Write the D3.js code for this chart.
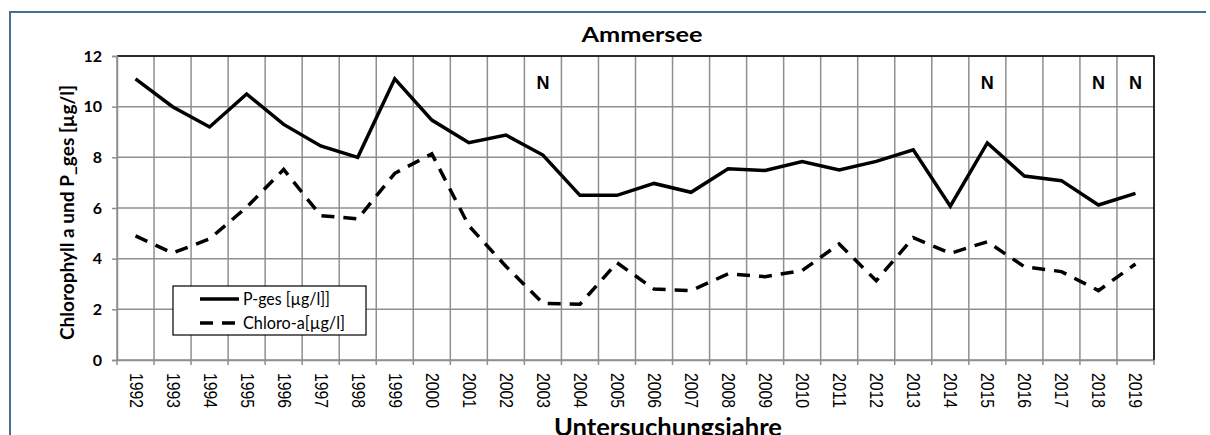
<!DOCTYPE html>
<html>
<head>
<meta charset="utf-8">
<script src="https://cdn.jsdelivr.net/npm/d3@7"></script>
<style>
  html, body { margin: 0; padding: 0; background: #fff; }
  svg { display: block; }
</style>
</head>
<body>
<svg id="chart" width="1210" height="435"></svg>
<script>
// Ammersee: total phosphorus and chlorophyll a, annual means
const years = [1992, 1993, 1994, 1995, 1996, 1997, 1998, 1999, 2000, 2001,
               2002, 2003, 2004, 2005, 2006, 2007, 2008, 2009, 2010, 2011,
               2012, 2013, 2014, 2015, 2016, 2017, 2018, 2019];
const pGes = [11.1, 10.0, 9.2, 10.5, 9.3, 8.45, 8.0, 11.1, 9.47, 8.58,
              8.88, 8.09, 6.5, 6.5, 6.97, 6.62, 7.55, 7.48, 7.83, 7.5,
              7.84, 8.3, 6.07, 8.57, 7.26, 7.08, 6.12, 6.58];
const chloroA = [4.9, 4.22, 4.78, 6.03, 7.52, 5.7, 5.57, 7.37, 8.14, 5.3,
                 3.7, 2.24, 2.2, 3.84, 2.8, 2.74, 3.4, 3.29, 3.53, 4.58,
                 3.13, 4.83, 4.21, 4.67, 3.68, 3.49, 2.74, 3.79];
const yTicks = [0, 2, 4, 6, 8, 10, 12];
const markYears = [2003, 2015, 2018, 2019];
const markText = "N";
const seriesNames = ["P-ges [µg/l]]", "Chloro-a[µg/l]"];
const titleText = "Ammersee";
const yTitle = "Chlorophyll a und P_ges [µg/l]";
const xTitle = "Untersuchungsjahre";

const svg = d3.select("#chart");
const plot = { left: 117, right: 1154, top: 56, bottom: 360 };
const labelFont = "Lato, 'Open Sans', sans-serif";
const tickFont = "'Liberation Sans', Arial, sans-serif";
const gridColor = "#8f8f8f";

// outer frame
svg.append("path")
  .attr("d", `M10,437 L10,12 L1206,12`)
  .attr("fill", "none")
  .attr("stroke", "#46708e")
  .attr("stroke-width", 2);

const x = d3.scaleBand().domain(years).range([plot.left, plot.right]).padding(0);
const y = d3.scaleLinear().domain([0, 12]).range([plot.bottom, plot.top]);
const cx = d => x(d) + x.bandwidth() / 2;

const grid = svg.append("g");
// horizontal grid lines
grid.selectAll("line.h").data(yTicks).join("line")
  .attr("x1", plot.left).attr("x2", plot.right)
  .attr("y1", d => y(d)).attr("y2", d => y(d))
  .attr("stroke", gridColor).attr("stroke-width", 1.5);
// vertical grid lines at category boundaries
const bounds = years.map(d => x(d)).concat([plot.right]);
grid.selectAll("line.v").data(bounds).join("line")
  .attr("x1", d => d).attr("x2", d => d)
  .attr("y1", plot.top).attr("y2", plot.bottom)
  .attr("stroke", gridColor).attr("stroke-width", 1.5);

// plot area border (top / right)
svg.append("path")
  .attr("d", `M${plot.left},${plot.top} L${plot.right},${plot.top} L${plot.right},${plot.bottom}`)
  .attr("fill", "none").attr("stroke", "#000").attr("stroke-width", 1.5);

// y axis
const yAxis = svg.append("g")
  .attr("transform", `translate(${plot.left},0)`)
  .call(d3.axisLeft(y).tickValues(yTicks).tickSize(5).tickPadding(10));
yAxis.select(".domain").attr("stroke", gridColor).attr("stroke-width", 1.5);
yAxis.selectAll(".tick line").attr("stroke", gridColor).attr("stroke-width", 1.5);
yAxis.selectAll(".tick text")
  .attr("font-family", labelFont).attr("font-size", 16).attr("font-weight", "bold")
  .attr("fill", "#000");

// x axis
const xAxis = svg.append("g")
  .attr("transform", `translate(0,${plot.bottom})`)
  .call(d3.axisBottom(x).tickSize(0).tickSizeOuter(0));
xAxis.select(".domain").attr("stroke", gridColor).attr("stroke-width", 1.5);
xAxis.selectAll(".tick text")
  .attr("font-family", tickFont).attr("font-size", 17.5).attr("fill", "#000")
  .attr("text-anchor", "start")
  .attr("dominant-baseline", "central")
  .attr("dy", null)
  .attr("textLength", 35).attr("lengthAdjust", "spacingAndGlyphs")
  .attr("transform", "translate(0,13) rotate(90)")
  .attr("y", 0).attr("x", 0);
// tick marks on category boundaries
xAxis.selectAll("line.bt").data(bounds).join("line")
  .attr("x1", d => d).attr("x2", d => d)
  .attr("y1", 0).attr("y2", 5)
  .attr("stroke", gridColor).attr("stroke-width", 1.5);

// series lines
const line = (vals) => d3.line()
  .x((d, i) => cx(years[i]))
  .y(d => y(d))(vals);

svg.append("path")
  .attr("d", line(pGes))
  .attr("fill", "none").attr("stroke", "#000")
  .attr("stroke-width", 3.5).attr("stroke-linejoin", "miter");

svg.append("path")
  .attr("d", line(chloroA))
  .attr("fill", "none").attr("stroke", "#000")
  .attr("stroke-width", 3.5)
  .attr("stroke-dasharray", "13,9");

// "N" markers
svg.selectAll("text.mark").data(markYears).join("text")
  .attr("x", d => cx(d)).attr("y", 89)
  .attr("text-anchor", "middle")
  .attr("font-family", tickFont).attr("font-weight", "bold").attr("font-size", 18)
  .text(markText);

// title
svg.append("text")
  .attr("x", 642).attr("y", 42)
  .attr("text-anchor", "middle")
  .attr("font-family", labelFont).attr("font-weight", "bold").attr("font-size", 21)
  .attr("textLength", 121).attr("lengthAdjust", "spacingAndGlyphs")
  .text(titleText);

// y axis title
svg.append("text")
  .attr("transform", `translate(74,212.5) rotate(-90)`)
  .attr("text-anchor", "middle")
  .attr("font-family", labelFont).attr("font-weight", "bold").attr("font-size", 18)
  .attr("textLength", 255).attr("lengthAdjust", "spacingAndGlyphs")
  .text(yTitle);

// x axis title
svg.append("text")
  .attr("x", 668).attr("y", 436)
  .attr("text-anchor", "middle")
  .attr("font-family", labelFont).attr("font-weight", "bold").attr("font-size", 25)
  .attr("textLength", 228).attr("lengthAdjust", "spacingAndGlyphs")
  .text(xTitle);

// legend
const lg = svg.append("g").attr("transform", "translate(173,286)");
lg.append("rect")
  .attr("width", 193).attr("height", 49)
  .attr("fill", "#fff").attr("stroke", "#000").attr("stroke-width", 1.2);
const entries = [
  { name: seriesNames[0], dash: null, len: 87 },
  { name: seriesNames[1], dash: "13,9", len: 102 }
];
const le = lg.selectAll("g.entry").data(entries).join("g")
  .attr("transform", (d, i) => `translate(0,${13 + i * 24})`);
le.append("line")
  .attr("x1", 27).attr("x2", 66).attr("y1", 0).attr("y2", 0)
  .attr("stroke", "#000").attr("stroke-width", 3.5)
  .attr("stroke-dasharray", d => d.dash);
le.append("text")
  .attr("x", 70).attr("y", 0)
  .attr("dominant-baseline", "central")
  .attr("font-family", labelFont).attr("font-size", 16.5)
  .attr("textLength", d => d.len).attr("lengthAdjust", "spacingAndGlyphs")
  .text(d => d.name);
</script>
</body>
</html>
